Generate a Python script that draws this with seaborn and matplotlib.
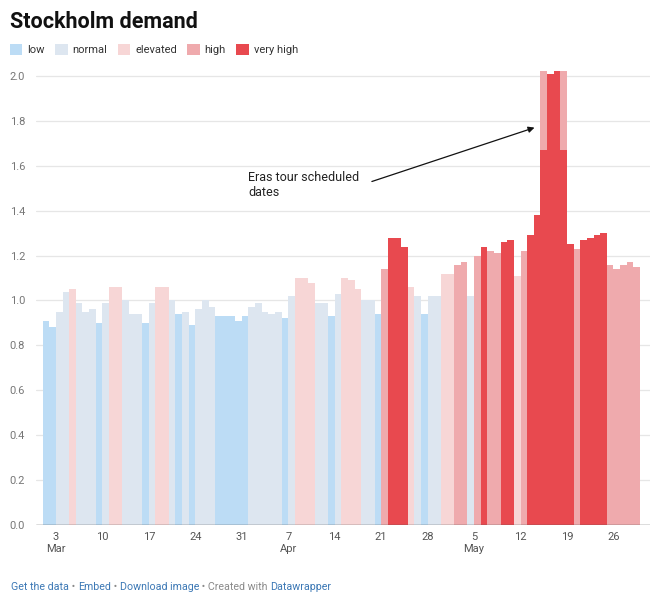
import numpy as np
import pandas as pd
import matplotlib
matplotlib.use("Agg")
import matplotlib.pyplot as plt
import seaborn as sns

# ---------------- data ----------------
start_date = "2024-03-01"
values = [
    # March 1-31
    0.91, 0.88, 0.95, 1.04, 1.05, 0.99, 0.95, 0.96, 0.90, 0.99,
    1.06, 1.06, 1.00, 0.94, 0.94, 0.90, 0.99, 1.06, 1.06, 1.00,
    0.94, 0.95, 0.89, 0.96, 1.00, 0.97, 0.93, 0.93, 0.93, 0.91, 0.93,
    # April 1-30
    0.97, 0.99, 0.95, 0.94, 0.95, 0.92, 1.02, 1.10, 1.10, 1.08,
    0.99, 0.99, 0.93, 1.03, 1.10, 1.09, 1.05, 1.00, 1.00, 0.94,
    1.14, 1.28, 1.28, 1.24, 1.06, 1.02, 0.94, 1.02, 1.02, 1.12,
    # May 1-29
    1.12, 1.16, 1.17, 1.02, 1.20, 1.24, 1.22, 1.21, 1.26, 1.27,
    1.11, 1.22, 1.29, 1.38, 1.67, 2.01, 2.02, 1.67, 1.25, 1.23,
    1.27, 1.28, 1.29, 1.30, 1.16, 1.14, 1.16, 1.17, 1.15,
]
categories = [
    # March
    "low", "low", "normal", "normal", "elevated", "normal", "normal", "normal", "low", "normal",
    "elevated", "elevated", "normal", "normal", "normal", "low", "normal", "elevated", "elevated", "normal",
    "low", "normal", "low", "normal", "normal", "normal", "low", "low", "low", "low", "low",
    # April
    "normal", "normal", "normal", "normal", "normal", "low", "normal", "elevated", "elevated", "elevated",
    "normal", "normal", "low", "normal", "elevated", "elevated", "elevated", "normal", "normal", "low",
    "high", "very high", "very high", "very high", "elevated", "normal", "low", "normal", "normal", "elevated",
    # May
    "elevated", "high", "high", "normal", "high", "very high", "high", "high", "very high", "very high",
    "elevated", "high", "very high", "very high", "very high", "very high", "very high", "very high", "very high", "high",
    "very high", "very high", "very high", "very high", "high", "high", "high", "high", "high",
]
# extra rows drawn behind (duplicate dates in the source)
extra_dates = ["2024-05-15", "2024-05-18"]
extra_values = [2.02, 2.02]
extra_categories = ["high", "high"]

levels = ["low", "normal", "elevated", "high", "very high"]
level_colors = ["#bcdcf5", "#dde6f0", "#f7d6d6", "#efaaad", "#e8494f"]

tick_dates = ["2024-03-03", "2024-03-10", "2024-03-17", "2024-03-24", "2024-03-31",
              "2024-04-07", "2024-04-14", "2024-04-21", "2024-04-28",
              "2024-05-05", "2024-05-12", "2024-05-19", "2024-05-26"]
tick_labels = ["3\nMar", "10", "17", "24", "31", "7\nApr", "14", "21", "28",
               "5\nMay", "12", "19", "26"]
y_ticks = [0.0, 0.2, 0.4, 0.6, 0.8, 1.0, 1.2, 1.4, 1.6, 1.8, 2.0]

# ---------------- build table ----------------
t0 = pd.Timestamp(start_date)
dates = pd.date_range(start_date, periods=len(values), freq="D")
df = pd.DataFrame({"date": list(pd.to_datetime(extra_dates)) + list(dates),
                   "value": extra_values + values,
                   "category": extra_categories + categories})
df["x"] = (df["date"] - t0).dt.days + 0.5

# ---------------- plot ----------------
sns.set_style("white")
plt.rcParams["font.family"] = ["Roboto", "DejaVu Sans"]

W, H = 664, 601
fig = plt.figure(figsize=(W / 100, H / 100), dpi=100)
ax = fig.add_axes([36 / W, 1 - 525 / H, (650 - 36) / W, (525 - 67) / H])

sns.barplot(data=df, x="x", y="value", hue="category", hue_order=levels,
            palette=dict(zip(levels, level_colors)), dodge=False,
            native_scale=True, width=1.0, errorbar=None, linewidth=0,
            edgecolor="none", saturation=1, ax=ax, zorder=2)

ax.set_xlim(-1.0, 91.5)
ax.set_ylim(0, 2.04)
ax.set_xlabel("")
ax.set_ylabel("")

xt = [(pd.Timestamp(d) - t0).days for d in tick_dates]
ax.set_xticks(xt)
ax.set_xticklabels(tick_labels, fontsize=8, color="#555555", linespacing=1.3)
ax.tick_params(axis="x", length=0, pad=5)

ax.set_yticks(y_ticks)
ax.set_yticklabels([f"{v:.1f}" for v in y_ticks], fontsize=8, color="#777777", ha="left")
ax.tick_params(axis="y", length=0, pad=19)

for v in y_ticks[1:]:
    ax.axhline(v, color="#e6e6e6", lw=0.9, zorder=0)
ax.axhline(0, color="#555555", lw=1.0, zorder=3)
for s in ax.spines.values():
    s.set_visible(False)

# annotation
ax.annotate("", xy=(74.1, 1.77), xytext=(49.6, 1.53),
            arrowprops=dict(arrowstyle="-|>", color="#111111", lw=0.9,
                            mutation_scale=9, shrinkA=0, shrinkB=0), zorder=5)
ax.text(31.0, 1.575, "Eras tour scheduled\ndates", fontsize=9, color="#222222",
        va="top", ha="left", linespacing=1.2, zorder=5)

# legend
sns.move_legend(ax, "upper left", bbox_to_anchor=(10 / W, 1 - 44 / H),
                bbox_transform=fig.transFigure, ncol=5, frameon=False, title=None,
                fontsize=8, handlelength=1.1, handleheight=1.1, handletextpad=0.45,
                columnspacing=0.95, borderaxespad=0, borderpad=0)
for t in ax.get_legend().get_texts():
    t.set_color("#333333")

# title
fig.text(10 / W, 1 - 28 / H, "Stockholm demand", fontsize=15.5, fontweight="bold",
         color="#111111", ha="left", va="baseline")

# footer (laid out sequentially)
link = "#3c78b5"
grey = "#8a8a8a"
footer = [("Get the data", link), (" \u2022 ", grey), ("Embed", link), (" \u2022 ", grey),
          ("Download image", link), (" \u2022 Created with ", grey), ("Datawrapper", link)]
fig.canvas.draw()
renderer = fig.canvas.get_renderer()
px = 11
for txt, col in footer:
    t = fig.text(px / W, 1 - 590 / H, txt, fontsize=7.7, color=col, ha="left", va="baseline")
    bb = t.get_window_extent(renderer=renderer)
    px += bb.width

fig.savefig("out.png", dpi=100)
